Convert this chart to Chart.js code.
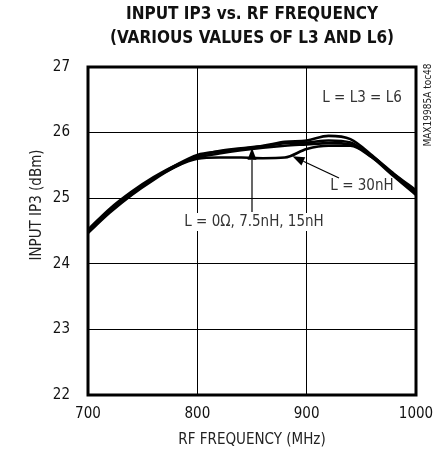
<!DOCTYPE html>
<html lang="en">
<head>
    <meta charset="UTF-8">
    <title>Input IP3 vs. RF Frequency</title>
    <script src="https://cdn.jsdelivr.net/npm/chart.js"></script>
    <style>
        body { margin: 0; background: #fff; }
        #wrap { width: 439px; height: 458px; }
    </style>
</head>
<body>
<div id="wrap"><canvas id="ip3Chart"></canvas></div>
<script>
    // data
    const freqs = [700, 720, 740, 760, 780, 800, 820, 840, 860, 880, 900, 920, 940, 960, 980, 1000];
    const ip3_0ohm = [24.47, 24.78, 25.05, 25.28, 25.48, 25.64, 25.72, 25.76, 25.80, 25.86, 25.88, 25.95, 25.90, 25.65, 25.35, 25.08];
    const ip3_7n5 = [24.50, 24.82, 25.08, 25.30, 25.50, 25.66, 25.71, 25.75, 25.79, 25.84, 25.85, 25.88, 25.85, 25.62, 25.33, 25.05];
    const ip3_15n = [24.52, 24.84, 25.10, 25.32, 25.50, 25.62, 25.68, 25.73, 25.77, 25.80, 25.82, 25.84, 25.82, 25.64, 25.37, 25.12];
    const ip3_30n = [24.48, 24.80, 25.06, 25.30, 25.48, 25.60, 25.62, 25.62, 25.61, 25.62, 25.75, 25.80, 25.80, 25.62, 25.36, 25.10];
    const seriesNames = ['L = 0Ω', 'L = 7.5nH', 'L = 15nH', 'L = 30nH'];
    const xTicks = [700, 800, 900, 1000];
    const yTicks = [22, 23, 24, 25, 26, 27];

    const FONT = '"Liberation Sans Narrow", "DejaVu Sans Condensed", Arial, sans-serif';
    const INK = '#111';

    const toPoints = ys => freqs.map((f, i) => ({ x: f, y: ys[i] }));

    function lineSet(label, ys) {
        return {
            label: label,
            data: toPoints(ys),
            borderColor: '#000',
            borderWidth: 2.6,
            pointRadius: 0,
            fill: false,
            cubicInterpolationMode: 'monotone'
        };
    }

    // frame, titles, notes and arrows
    const decor = {
        id: 'decor',
        afterDatasetsDraw(chart) {
            const { ctx, chartArea: a, scales: { x, y } } = chart;
            ctx.save();
            ctx.strokeStyle = '#000';
            ctx.lineWidth = 3;
            ctx.strokeRect(a.left, a.top, a.right - a.left, a.bottom - a.top);

            ctx.fillStyle = INK;
            ctx.textAlign = 'center';
            ctx.textBaseline = 'middle';
            ctx.font = 'bold 17px ' + FONT;
            ctx.fillText('INPUT IP3 vs. RF FREQUENCY', 252, 15);
            ctx.fillText('(VARIOUS VALUES OF L3 AND L6)', 252, 39);

            ctx.font = '15px ' + FONT;
            ctx.fillStyle = '#222';
            ctx.fillText('RF FREQUENCY (MHz)', 252, 440);

            ctx.save();
            ctx.translate(37, 205);
            ctx.rotate(-Math.PI / 2);
            ctx.fillText('INPUT IP3 (dBm)', 0, 0);
            ctx.restore();

            ctx.save();
            ctx.font = '10px ' + FONT;
            ctx.translate(428, 105);
            ctx.rotate(-Math.PI / 2);
            ctx.fillText('MAX19985A toc48', 0, 0);
            ctx.restore();

            ctx.font = '15px ' + FONT;
            ctx.fillStyle = '#333';
            ctx.fillText('L = L3 = L6', 362, 98);
            ctx.fillText('L = 30nH', 362, 186);
            // white backing so the grid lines break behind this note
            const t = 'L = 0Ω, 7.5nH, 15nH';
            const w = ctx.measureText(t).width;
            ctx.fillStyle = '#fff';
            ctx.fillRect(254 - w / 2 - 3, 213, w + 6, 18);
            ctx.fillStyle = '#333';
            ctx.fillText(t, 254, 222);

            // arrow to the upper bundle
            const ax = x.getPixelForValue(850);
            const ay = y.getPixelForValue(25.77);
            arrow(ctx, ax, 212, ax, ay);
            // arrow to the 30nH curve
            const bx = x.getPixelForValue(887);
            const by = y.getPixelForValue(25.64);
            arrow(ctx, 339, 178, bx, by);
            ctx.restore();
        }
    };

    function arrow(ctx, x0, y0, x1, y1) {
        const ang = Math.atan2(y1 - y0, x1 - x0);
        const len = 12, half = 4.5;
        ctx.strokeStyle = '#000';
        ctx.lineWidth = 1.2;
        ctx.beginPath();
        ctx.moveTo(x0, y0);
        ctx.lineTo(x1 - Math.cos(ang) * len, y1 - Math.sin(ang) * len);
        ctx.stroke();
        ctx.fillStyle = '#000';
        ctx.beginPath();
        ctx.moveTo(x1, y1);
        ctx.lineTo(x1 - Math.cos(ang) * len - Math.sin(ang) * half, y1 - Math.sin(ang) * len + Math.cos(ang) * half);
        ctx.lineTo(x1 - Math.cos(ang) * len + Math.sin(ang) * half, y1 - Math.sin(ang) * len - Math.cos(ang) * half);
        ctx.closePath();
        ctx.fill();
    }

    new Chart(document.getElementById('ip3Chart'), {
        type: 'line',
        data: {
            datasets: [
                lineSet(seriesNames[0], ip3_0ohm),
                lineSet(seriesNames[1], ip3_7n5),
                lineSet(seriesNames[2], ip3_15n),
                lineSet(seriesNames[3], ip3_30n)
            ]
        },
        options: {
            responsive: true,
            maintainAspectRatio: false,
            animation: false,
            layout: { padding: { top: 67, right: 23, left: 0, bottom: 0 } },
            plugins: {
                legend: { display: false },
                tooltip: { enabled: false }
            },
            scales: {
                x: {
                    type: 'linear',
                    min: 700,
                    max: 1000,
                    afterBuildTicks: s => { s.ticks = xTicks.map(v => ({ value: v })); },
                    afterFit: s => { s.height = 63; s.paddingRight = 0; s.paddingLeft = 0; },
                    grid: { color: '#000', lineWidth: 1, drawTicks: false },
                    border: { display: false },
                    ticks: { color: INK, font: { family: FONT, size: 15 }, padding: 10, maxRotation: 0, callback: v => String(v) }
                },
                y: {
                    min: 22,
                    max: 27,
                    afterBuildTicks: s => { s.ticks = yTicks.map(v => ({ value: v })); },
                    afterFit: s => { s.width = 88; s.paddingTop = 0; s.paddingBottom = 0; },
                    grid: { color: '#000', lineWidth: 1, drawTicks: false },
                    border: { display: false },
                    ticks: { color: INK, font: { family: FONT, size: 15 }, padding: 18 }
                }
            }
        },
        plugins: [decor]
    });
</script>
</body>
</html>
